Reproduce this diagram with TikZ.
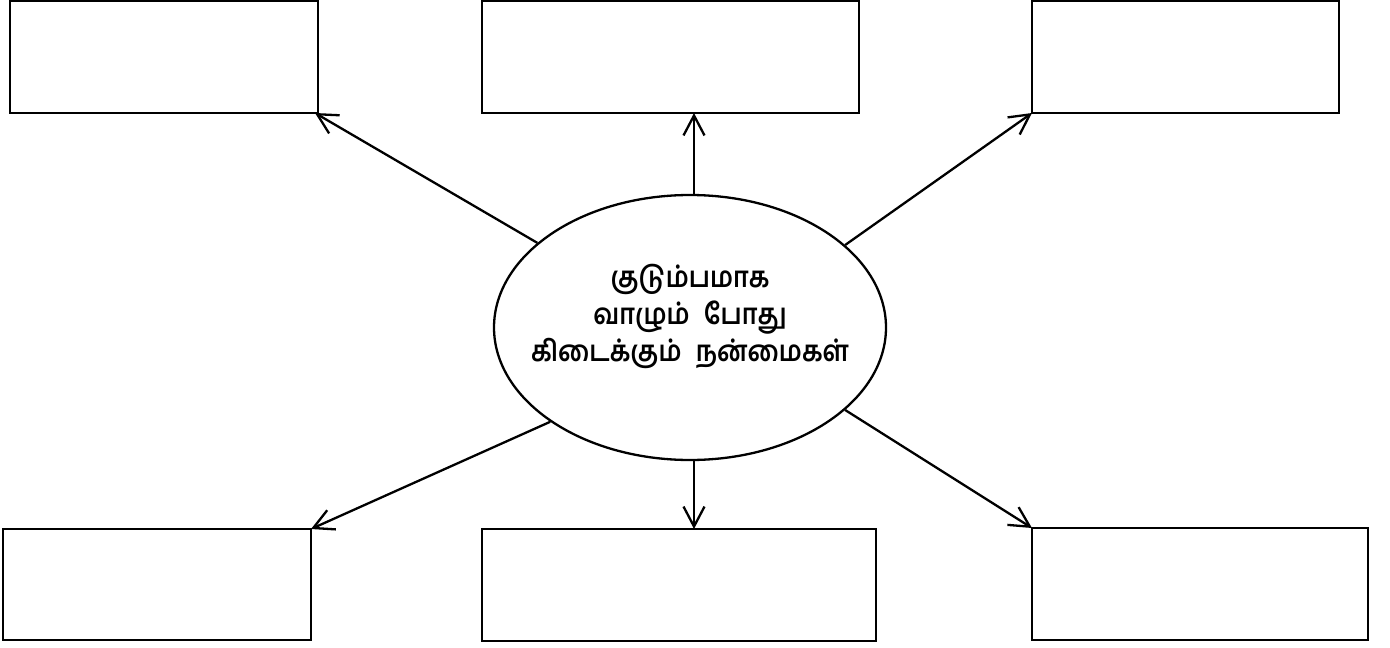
\documentclass[tikz,border=0pt]{standalone}
\usepackage{fontspec}
\newfontfamily\tamil[Script=Tamil,FakeStretch=0.87]{Hind Madurai}
\usetikzlibrary{shapes.geometric,arrows.meta}
\begin{document}
\begin{tikzpicture}[x=1pt,y=-1pt,
  boxstyle/.style={draw,line width=2.3pt},
  conn/.style={line width=2.3pt,-{Straight Barb[length=20pt,width=21pt,line width=2.3pt]}}]
\useasboundingbox (0,0) rectangle (1390,648);
\draw[boxstyle] (10,1) rectangle (318,113);
\draw[boxstyle] (482,1) rectangle (859,113);
\draw[boxstyle] (1032,1) rectangle (1339,113);
\draw[boxstyle] (3,529) rectangle (311,640);
\draw[boxstyle] (482,529) rectangle (876,641);
\draw[boxstyle] (1032,528) rectangle (1368,640);
\coordinate (tl) at (315,113);
\coordinate (tm) at (694,113);
\coordinate (tr) at (1032,113);
\coordinate (bl) at (311,529);
\coordinate (bm) at (694,529);
\coordinate (br) at (1032,528);
\node[draw,ellipse,line width=2.3pt,minimum width=392pt,minimum height=265pt,inner sep=0pt] (e) at (690,327.5) {};
\node[align=center,font=\tamil\bfseries\fontsize{29}{37}\selectfont] (t) at (690,316) {குடும்பமாக\\வாழும்\hspace{14pt}போது\\கிடைக்கும்\hspace{14pt}நன்மைகள்};
\draw[conn] (e.151) -- (tl);
\draw[conn] (tm |- e.north) -- (tm);
\draw[conn] (e.28.9) -- (tr);
\draw[conn] (e.214.5) -- (bl);
\draw[conn] (bm |- e.south) -- (bm);
\draw[conn] (e.332) -- (br);
\end{tikzpicture}
\end{document}
